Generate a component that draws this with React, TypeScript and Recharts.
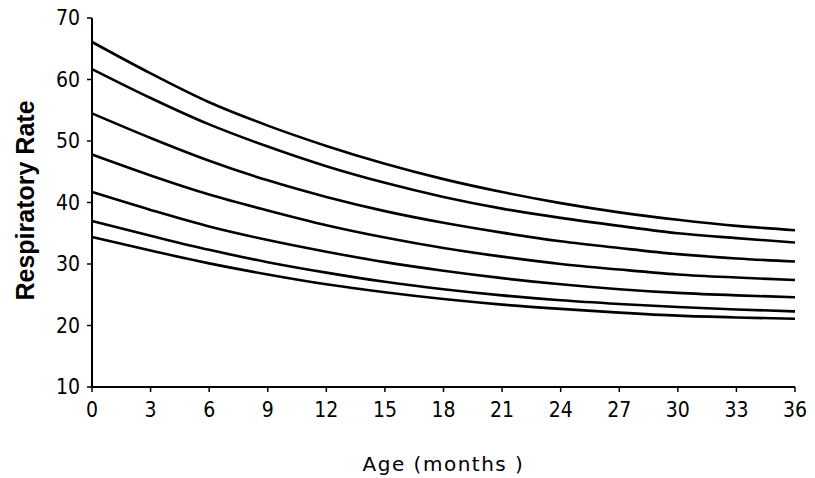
import React from 'react';
import { LineChart, Line, XAxis, YAxis, Label } from 'recharts';

const months = [0, 3, 6, 9, 12, 15, 18, 21, 24, 27, 30, 33, 36];
const curve1 = [66.1, 61.0, 56.3, 52.5, 49.2, 46.3, 43.8, 41.7, 39.9, 38.4, 37.2, 36.2, 35.5];
const curve2 = [61.7, 57.0, 52.7, 49.1, 45.9, 43.2, 40.9, 39.0, 37.5, 36.2, 35.0, 34.2, 33.5];
const curve3 = [54.5, 50.5, 46.8, 43.6, 40.9, 38.6, 36.7, 35.1, 33.7, 32.6, 31.6, 30.9, 30.4];
const curve4 = [47.8, 44.4, 41.3, 38.7, 36.3, 34.3, 32.6, 31.2, 30.0, 29.1, 28.3, 27.8, 27.4];
const curve5 = [41.7, 38.8, 36.1, 33.9, 32.0, 30.3, 28.9, 27.7, 26.7, 25.9, 25.3, 24.9, 24.6];
const curve6 = [37.0, 34.6, 32.3, 30.3, 28.6, 27.1, 25.9, 24.9, 24.1, 23.5, 23.0, 22.6, 22.3];
const curve7 = [34.4, 32.2, 30.1, 28.3, 26.7, 25.4, 24.3, 23.4, 22.7, 22.1, 21.6, 21.3, 21.1];

const xTicks = [0, 3, 6, 9, 12, 15, 18, 21, 24, 27, 30, 33, 36];
const yTicks = [10, 20, 30, 40, 50, 60, 70];

const series = [curve1, curve2, curve3, curve4, curve5, curve6, curve7];
const keys = ['c1', 'c2', 'c3', 'c4', 'c5', 'c6', 'c7'];

const data = months.map((m, i) => {
  const row: Record<string, number> = { month: m };
  series.forEach((s, j) => {
    row[keys[j]] = s[i];
  });
  return row;
});

const tickFont = { fontFamily: '"DejaVu Sans Condensed", "DejaVu Sans"', fontSize: 21, fill: '#000' };

const YLabel = (props: any) => {
  const vb = props.viewBox || {};
  const cx = vb.x + 25;
  const cy = vb.y + vb.height / 2 - 2;
  return (
    <text
      x={cx}
      y={cy}
      transform={`rotate(-90, ${cx}, ${cy})`}
      textAnchor="middle"
      dominantBaseline="central"
      style={{ fontFamily: 'Liberation Sans', fontWeight: 'bold', fontSize: 25, fill: '#000' }}
    >
      Respiratory Rate
    </text>
  );
};

export default function App() {
  return (
    <div style={{ position: 'absolute', left: 0, top: 0, background: '#fff' }}>
      <LineChart width={815} height={478} data={data} margin={{ top: 18, right: 20, bottom: 0, left: 0 }}>
        <XAxis
          dataKey="month"
          type="number"
          domain={[0, 36]}
          ticks={xTicks}
          interval={0}
          height={91}
          tickSize={5}
          tickMargin={10}
          tick={tickFont}
          axisLine={{ stroke: '#000', strokeWidth: 2 }}
          tickLine={{ stroke: '#000', strokeWidth: 1.5 }}
        >
          <Label
            value="Age (months )"
            position="insideBottom"
            offset={7}
            style={{ fontFamily: 'DejaVu Sans', fontSize: 20, letterSpacing: 1.5, fill: '#000' }}
          />
        </XAxis>
        <YAxis
          type="number"
          domain={[10, 70]}
          ticks={yTicks}
          interval={0}
          width={92}
          tickSize={5}
          tickMargin={7}
          tick={tickFont}
          axisLine={{ stroke: '#000', strokeWidth: 2 }}
          tickLine={{ stroke: '#000', strokeWidth: 1.5 }}
        >
          <Label content={<YLabel />} />
        </YAxis>
        {keys.map((k) => (
          <Line
            key={k}
            dataKey={k}
            type="monotone"
            stroke="#000"
            strokeWidth={2.6}
            dot={false}
            isAnimationActive={false}
          />
        ))}
      </LineChart>
    </div>
  );
}
